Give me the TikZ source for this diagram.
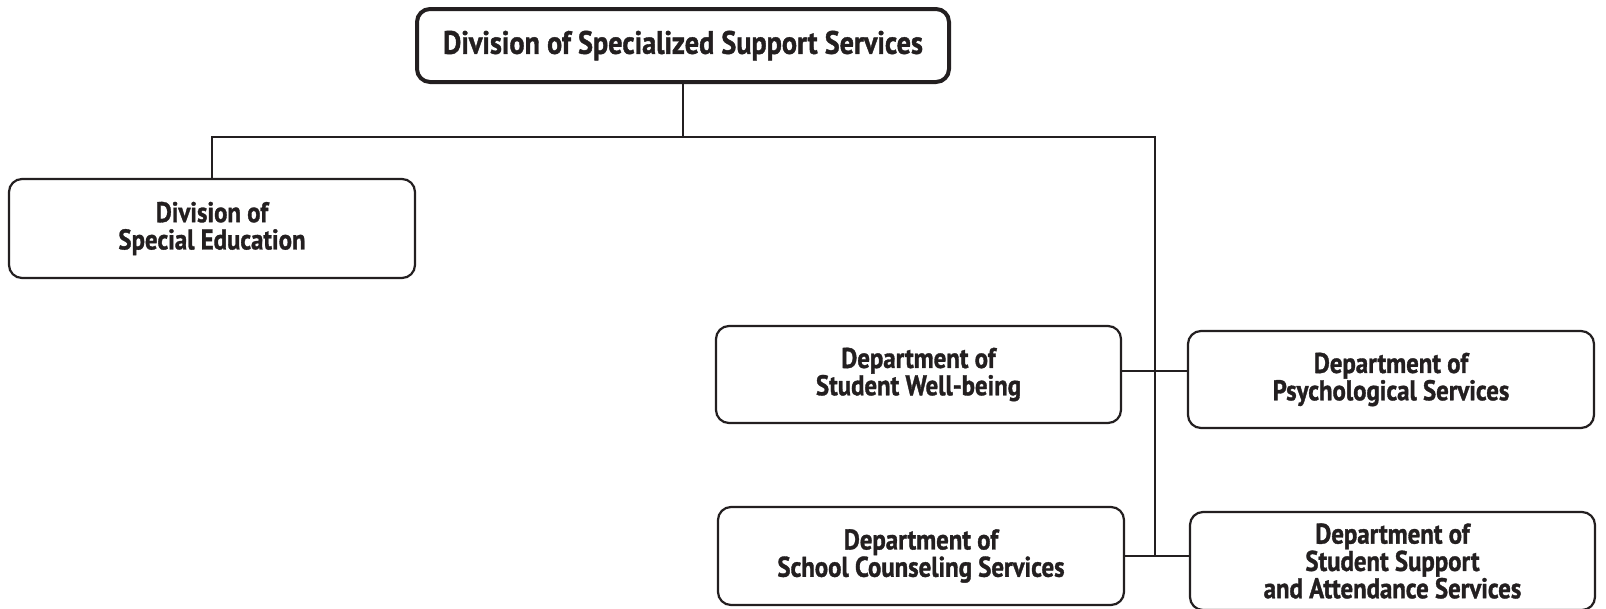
\documentclass[tikz,border=0pt]{standalone}
\usepackage{fontspec}
\setmainfont{PT Sans}[FakeStretch=0.87,BoldFeatures={FakeBold=1.2}]
\definecolor{ink}{HTML}{231F20}
\begin{document}
\begin{tikzpicture}[x=1pt,y=-1pt,
  box/.style={draw=ink,line width=2.2pt,rounded corners=13pt,align=center,
    font=\fontsize{28.5}{27.3}\selectfont\bfseries,text=ink,inner sep=0pt},
  link/.style={draw=ink,line width=2.2pt}]
\useasboundingbox (0,0) rectangle (1606,608);
\node[box,line width=4pt,minimum width=532pt,minimum height=73pt,font=\fontsize{32.4}{30}\selectfont\bfseries] (top) at (683,45.5) {Division of Specialized Support Services};
\node[box,minimum width=406pt,minimum height=99pt] (sped) at (212,228.5) {Division of\\Special Education};
\node[box,minimum width=405pt,minimum height=97pt] (wb) at (918.5,374.5) {Department of\\Student Well-being};
\node[box,minimum width=406pt,minimum height=97pt] (psy) at (1391,379.5) {Department of\\Psychological Services};
\node[box,minimum width=406pt,minimum height=98pt] (couns) at (921,556) {Department of\\School Counseling Services};
\node[box,minimum width=405pt,minimum height=98pt] (att) at (1392.5,561) {Department of\\Student Support\\and Attendance Services};
\coordinate (hj) at (683,137);
\coordinate (hr) at (1155,137);
\coordinate (j1) at (1155,371);
\coordinate (j2) at (1155,556);
\draw[link] (top.south) -- (hj);
\draw[link] (sped.north) |- (hr) -- (j2);
\draw[link] (wb.east |- j1) -- (psy.west |- j1);
\draw[link] (couns.east |- j2) -- (att.west |- j2);
\end{tikzpicture}
\end{document}
